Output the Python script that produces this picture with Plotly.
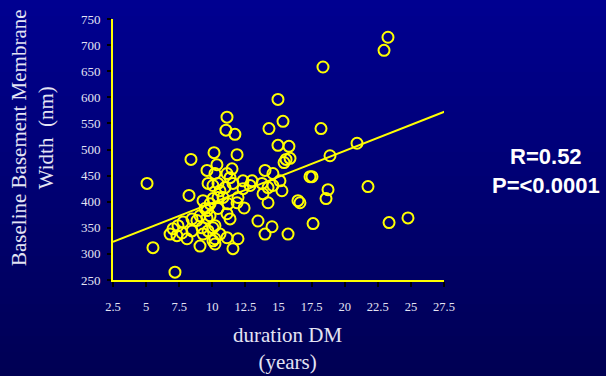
import plotly.graph_objects as go

duration_years = [
    5.07, 5.52, 7.18, 8.39, 8.24, 11.11, 11.03, 11.71, 10.13, 11.87,
    14.96, 15.34, 14.28, 14.96, 15.79, 15.57, 15.42, 18.36, 23.27, 22.97,
    18.21, 18.89, 20.93, 21.76, 18.74, 18.59, 17.38, 17.53, 16.62, 23.35,
    24.78, 17.61, 15.72, 14.51, 13.98, 13.45, 10.35, 9.60, 10.20, 11.11,
    9.68, 10.43, 11.49, 11.34, 13.98, 14.58, 15.11, 13.00, 13.75, 14.21,
    15.26, 12.32, 11.56, 10.96, 10.58, 10.05, 12.32, 12.85, 13.83, 14.58,
    11.94, 10.43, 9.30, 10.05, 10.81, 11.87, 11.19, 9.83, 12.40, 14.21,
    16.47, 9.45, 10.43, 11.11, 11.34, 9.60, 9.07, 9.60, 9.83, 10.05,
    9.22, 9.68, 10.20, 10.58, 10.20, 11.11, 11.94, 10.05, 9.07, 10.20,
    11.56, 8.84, 8.47, 7.79, 7.41, 7.03, 6.81, 7.33, 7.71, 8.09,
    9.30, 8.47, 15.87,
]
membrane_width_nm = [
    435, 312, 265, 481, 412, 562, 537, 529, 494, 490,
    596, 554, 540, 508, 506, 481, 475, 658, 715, 690,
    540, 488, 512, 429, 423, 406, 448, 448, 398, 360,
    369, 358, 338, 352, 338, 363, 471, 460, 454, 454,
    435, 435, 463, 446, 460, 454, 440, 440, 435, 427,
    421, 440, 435, 427, 421, 431, 425, 431, 415, 431,
    408, 408, 402, 406, 408, 398, 396, 396, 388, 398,
    402, 387, 387, 377, 367, 369, 373, 383, 373, 350,
    350, 344, 354, 338, 329, 331, 329, 325, 315, 319,
    310, 364, 367, 361, 354, 348, 338, 335, 340, 329,
    338, 344, 483,
]

fit_x = [2.5, 27.6]
fit_y = [323, 573]

x_tick_vals = [2.5, 5, 7.5, 10, 12.5, 15, 17.5, 20, 22.5, 25, 27.5]
x_tick_text = ["2.5", "5", "7.5", "10", "12.5", "15", "17.5", "20", "22.5", "25", "27.5"]
y_tick_vals = [250, 300, 350, 400, 450, 500, 550, 600, 650, 700, 750]
y_tick_text = [str(v) for v in y_tick_vals]

YELLOW = "#FFFF00"
LABEL = "#E4E4F4"

fig = go.Figure()
fig.add_trace(go.Scatter(
    x=fit_x, y=fit_y, mode="lines",
    line=dict(color=YELLOW, width=2), hoverinfo="skip", showlegend=False,
))
fig.add_trace(go.Scatter(
    x=duration_years, y=membrane_width_nm, mode="markers",
    marker=dict(symbol="circle-open", size=11, color=YELLOW, line=dict(color=YELLOW, width=2)),
    showlegend=False,
))

# background gradient stripes across the whole figure
W, H = 606, 376
ml, mr, mt, mb = 113, 162, 19, 96
pw, ph = W - ml - mr, H - mt - mb
shapes = []
n = 47
top = (0, 0, 144)
bot = (0, 0, 84)
for i in range(n):
    t = i / (n - 1)
    c = tuple(round(top[k] + (bot[k] - top[k]) * t) for k in range(3))
    py0 = i * H / n
    py1 = (i + 1) * H / n + 1
    y0 = (H - mb - py0) / ph
    y1 = (H - mb - py1) / ph
    shapes.append(dict(
        type="rect", xref="paper", yref="paper",
        x0=-ml / pw - 0.01, x1=1 + mr / pw + 0.01, y0=y1, y1=y0,
        fillcolor="rgb(%d,%d,%d)" % c, line=dict(width=0), layer="below",
    ))

fig.update_layout(
    width=W, height=H,
    margin=dict(l=ml, r=mr, t=mt, b=mb),
    paper_bgcolor="rgb(0,0,110)", plot_bgcolor="rgba(0,0,0,0)",
    shapes=shapes,
    font=dict(family="Liberation Serif", color=LABEL, size=12),
    xaxis=dict(
        range=[2.5, 27.5], tickvals=x_tick_vals, ticktext=x_tick_text,
        showgrid=False, zeroline=False, showline=True, linecolor=YELLOW, linewidth=2,
        ticks="outside", ticklen=5, tickwidth=2, tickcolor="black",
        tickfont=dict(family="Liberation Serif", size=12.5, color=LABEL),
        ticklabelstandoff=9,
    ),
    yaxis=dict(
        range=[250, 750], tickvals=y_tick_vals, ticktext=y_tick_text,
        showgrid=False, zeroline=False, showline=True, linecolor=YELLOW, linewidth=2,
        ticks="outside", ticklen=4, tickwidth=2, tickcolor="black",
        tickfont=dict(family="Liberation Serif", size=13, color=LABEL),
        ticklabelstandoff=4,
    ),
    annotations=[
        dict(text="Baseline Basement Membrane<br>Width  (nm)", xref="paper", yref="paper",
             x=(32 - ml) / pw, y=(H - mb - 138) / ph, xanchor="center", yanchor="middle",
             textangle=-90, showarrow=False,
             font=dict(family="Liberation Serif", size=21, color=LABEL)),
        dict(text="duration DM<br>(years)", xref="paper", yref="paper",
             x=(287 - ml) / pw, y=(H - mb - 348) / ph, xanchor="center", yanchor="middle",
             showarrow=False,
             font=dict(family="Liberation Serif", size=21, color=LABEL)),
        dict(text="<b>R=0.52<br>P=&lt;0.0001</b>", xref="paper", yref="paper",
             x=(546 - ml) / pw, y=(H - mb - 171) / ph, xanchor="center", yanchor="middle",
             showarrow=False,
             font=dict(family="Liberation Sans", size=22, color="white")),
    ],
)

fig.write_html("out.html", config={"displayModeBar": False},
               post_script="document.body.style.margin='0';")
